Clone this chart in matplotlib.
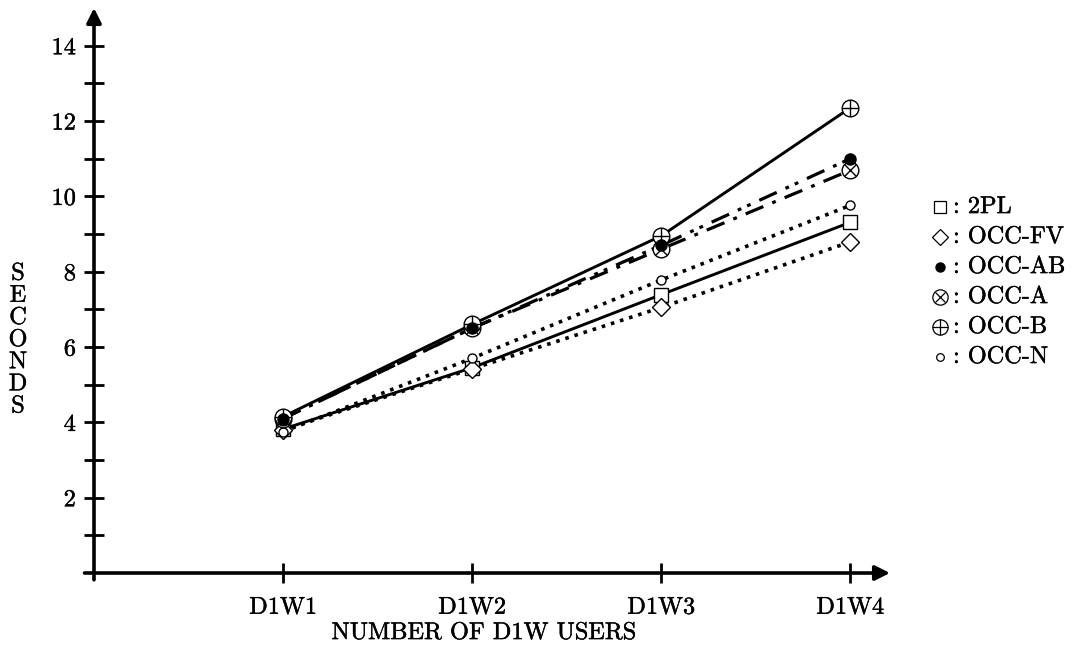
import matplotlib
matplotlib.use("Agg")
import matplotlib.pyplot as plt
import matplotlib.patheffects as pe

# ---- data ----
categories = ["D1W1", "D1W2", "D1W3", "D1W4"]
series_names = ["2PL", "OCC-FV", "OCC-AB", "OCC-A", "OCC-B", "OCC-N"]
v_2pl = [3.82, 5.45, 7.39, 9.31]
v_occ_fv = [3.80, 5.42, 7.05, 8.79]
v_occ_ab = [4.10, 6.50, 8.70, 11.00]
v_occ_a = [4.10, 6.50, 8.60, 10.69]
v_occ_b = [4.15, 6.60, 8.95, 12.35]
v_occ_n = [3.75, 5.70, 7.78, 9.76]
y_major = [2, 4, 6, 8, 10, 12, 14]
y_minor = [1, 3, 5, 7, 9, 11, 13]
xlabel = "NUMBER OF D1W USERS"
ylabel = "SECONDS"

plt.rcParams['font.family'] = ['cmr10', 'DejaVu Serif']
plt.rcParams['axes.formatter.use_mathtext'] = True
FS = 17.5
heavy = [pe.withStroke(linewidth=0.3, foreground='k')]

W, H = 1079, 652
fig = plt.figure(figsize=(W / 100, H / 100), dpi=100)
x0, x1, y0, y1 = 94, 890, 573, 8
ax = fig.add_axes([x0 / W, 1 - y0 / H, (x1 - x0) / W, (y0 - y1) / H])
ax.set_xlim(0, 4.21)
ax.set_ylim(0, 15)
for s in ax.spines.values():
    s.set_visible(False)

xs = list(range(1, len(categories) + 1))
ax.set_xticks(xs)
ax.set_xticklabels(categories, fontsize=FS)
ax.set_yticks(y_major)
ax.set_yticklabels([str(v) for v in y_major], fontsize=FS)
ax.set_yticks(y_minor, minor=True)
ax.tick_params(axis='both', which='both', direction='inout', length=14, width=2, color='k')
ax.tick_params(axis='x', pad=10)
ax.tick_params(axis='y', pad=6)
for t in ax.get_xticklabels() + ax.get_yticklabels():
    t.set_path_effects(heavy)

# axes with arrows
ax.annotate('', xy=(4.21, 0), xytext=(-0.05, 0), xycoords='data',
            arrowprops=dict(arrowstyle='-|>', lw=2.6, color='k', mutation_scale=22,
                            shrinkA=0, shrinkB=0), annotation_clip=False)
ax.annotate('', xy=(0, 15), xytext=(0, -0.18), xycoords='data',
            arrowprops=dict(arrowstyle='-|>', lw=2.6, color='k', mutation_scale=22,
                            shrinkA=0, shrinkB=0), annotation_clip=False)

lw = 2.1
ms_big = 12
ax.plot(xs, v_2pl, '-', color='k', lw=lw, marker='s', ms=10, mfc='white', mec='k', mew=1, zorder=3)
ax.plot(xs, v_occ_fv, ':', color='k', lw=2.6, marker='D', ms=9, mfc='white', mec='k', mew=1, zorder=3)
ax.plot(xs, v_occ_n, ':', color='k', lw=2.6, marker='o', ms=6.5, mfc='white', mec='k', mew=1, zorder=3)
ax.plot(xs, v_occ_a, '-', color='k', lw=2.3, dashes=(6, 3, 1.2, 3), zorder=3)
ax.plot(xs, v_occ_a, 'o', ms=ms_big, mfc='white', mec='k', mew=1, zorder=4)
ax.plot(xs, v_occ_a, 'x', ms=ms_big / 1.45, mec='k', mew=1, zorder=4)
ax.plot(xs, v_occ_ab, '-', color='k', lw=2.3, dashes=(6, 3, 1.2, 2, 1.2, 3), zorder=3)
ax.plot(xs, v_occ_ab, 'o', ms=8, mfc='k', mec='k', zorder=5)
ax.plot(xs, v_occ_b, '-', color='k', lw=lw, zorder=3)
ax.plot(xs, v_occ_b, 'o', ms=ms_big, mfc='white', mec='k', mew=1, zorder=4)
ax.plot(xs, v_occ_b, '+', ms=ms_big, mec='k', mew=1, zorder=4)

# axis labels
fig.text(484 / W, 1 - 633 / H, xlabel, ha='center', va='center', fontsize=FS,
         path_effects=heavy)
fig.text(18 / W, 1 - 340 / H, "\n".join(ylabel), ha='center', va='center', fontsize=FS,
         linespacing=1.0, path_effects=heavy)

# legend (drawn in pixel space)
lg = fig.add_axes([0, 0, 1, 1], facecolor='none')
lg.set_xlim(0, W)
lg.set_ylim(H, 0)
lg.axis('off')
rows = [207, 237, 267, 297, 327, 357]
mx = 940
lg.plot([mx], [rows[0]], 's', ms=9, mfc='white', mec='k', mew=0.9)
lg.plot([mx], [rows[1]], 'D', ms=8, mfc='white', mec='k', mew=0.9)
lg.plot([mx], [rows[2]], 'o', ms=6.5, mfc='k', mec='k')
lg.plot([mx], [rows[3]], 'o', ms=11, mfc='white', mec='k', mew=0.9)
lg.plot([mx], [rows[3]], 'x', ms=11 / 1.45, mec='k', mew=0.9)
lg.plot([mx], [rows[4]], 'o', ms=11, mfc='white', mec='k', mew=0.9)
lg.plot([mx], [rows[4]], '+', ms=11, mec='k', mew=0.9)
lg.plot([mx], [rows[5]], 'o', ms=5.5, mfc='white', mec='k', mew=0.9)
for r, name in zip(rows, series_names):
    lg.text(953, r, ": " + name, ha='left', va='center', fontsize=FS, path_effects=heavy)

fig.savefig("out.png", dpi=100)
